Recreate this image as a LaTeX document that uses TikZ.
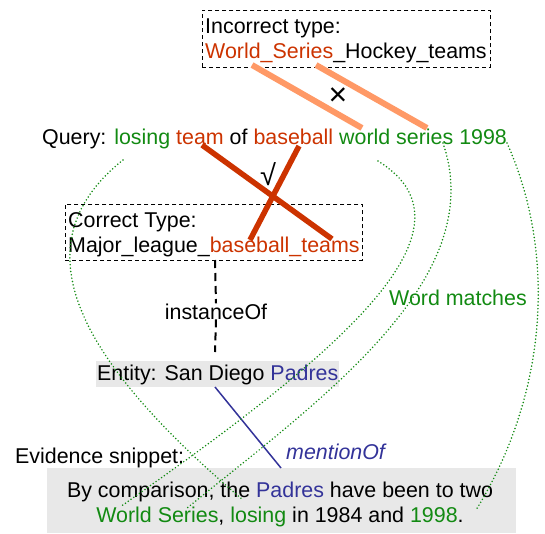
\documentclass[tikz,border=0pt]{standalone}
\usepackage{fontspec}
\setmainfont{Liberation Sans}
\definecolor{wgreen}{HTML}{128A12}
\definecolor{wred}{HTML}{CC3300}
\definecolor{wblue}{HTML}{333399}
\definecolor{lorange}{HTML}{FF9966}
\definecolor{lgray}{HTML}{E8E8E8}
\begin{document}
\begin{tikzpicture}[x=1pt,y=-1pt,
  txt/.style={anchor=base west, inner sep=0pt, font=\fontsize{21.4}{25}\selectfont},
  ctxt/.style={anchor=base, inner sep=0pt, font=\fontsize{21.4}{25}\selectfont},
  typebox/.style={draw, dash pattern=on 4pt off 3pt, line width=0.9pt, anchor=north west, inner sep=0pt},
  graybox/.style={fill=lgray, anchor=north west, inner sep=0pt},
  wrongln/.style={lorange, line width=6pt},
  rightln/.style={wred, line width=5.5pt},
  matchln/.style={wgreen, line width=1.7pt, line cap=round, dash pattern=on 0pt off 3.4pt},
  instln/.style={line width=2pt, dash pattern=on 8pt off 5pt},
  mentln/.style={wblue, line width=1.5pt}
]
\useasboundingbox (0,0) rectangle (545,533);

% boxes
\node[typebox, minimum width=288pt, minimum height=57pt] (inc) at (202,10) {};
\node[typebox, minimum width=297pt, minimum height=56pt] (cor) at (65,204) {};
\node[graybox, minimum width=469pt, minimum height=65pt] (snip) at (47,468) {};

% texts
\node[txt] (inc1) at (205,33) {Incorrect type:};
\node[txt] (inc2) at (205,58) {\textcolor{wred}{World\_Series}\_Hockey\_teams};
\node[txt] (query) at (42,144) {Query: \textcolor{wgreen}{losing} \textcolor{wred}{team} of \textcolor{wred}{baseball} \textcolor{wgreen}{world series 1998}};
\node[txt] (cor1) at (68,227) {Correct Type:};
\node[txt] (cor2) at (68,252) {Major\_league\_\textcolor{wred}{baseball\_teams}};
\node[ctxt] (inst) at (216,319) {instanceOf};
\node[txt, fill=lgray, inner xsep=1pt, inner ysep=2pt, text height=17pt, text depth=5pt] (ent) at (96,380) {Entity: San Diego \textcolor{wblue}{Padres}};
\node[txt] (match) at (389,305) {\textcolor{wgreen}{Word matches}};
\node[txt] (evid) at (15,463) {Evidence snippet:};
\node[txt, font=\fontsize{21.4}{25}\selectfont\itshape] (ment) at (286,459) {\textcolor{wblue}{mentionOf}};
\node[ctxt] (snip1) at (280,497) {By comparison, the \textcolor{wblue}{Padres} have been to two};
\node[ctxt] (snip2) at (280,522) {\textcolor{wgreen}{World Series}, \textcolor{wgreen}{losing} in 1984 and \textcolor{wgreen}{1998}.};

% marks
\node[inner sep=0pt, font=\fontsize{32}{32}\selectfont] (xmark) at (338,97) {×};
\node[inner sep=0pt, font=\fontsize{29}{29}\selectfont] (vmark) at (268,174) {√};

% anchor coordinates
\coordinate (iws) at (252,65);
\coordinate (qws) at (362,128);
\coordinate (iser) at (316,65);
\coordinate (qser) at (427,128);
\coordinate (qteam) at (202,145);
\coordinate (cteam) at (332,239);
\coordinate (qbase) at (299,146);
\coordinate (cbase) at (250,240);
\coordinate (ql) at (123,160);
\coordinate (sl) at (243,500);
\coordinate (qw) at (378,161);
\coordinate (sw) at (120,507);
\coordinate (qs) at (443,143);
\coordinate (ss) at (187,508);
\coordinate (q98) at (507,143);
\coordinate (s98) at (476,510);
\coordinate (ctop) at (215,260);
\coordinate (etop) at (215,352);
\coordinate (epad) at (215,387);

% wrong type links
\draw[wrongln] (iws) -- (qws);
\draw[wrongln] (iser) -- (qser);
% right type links
\draw[rightln] (qteam) -- (cteam);
\draw[rightln] (qbase) -- (cbase);

% instanceOf
\draw[instln] (ctop) -- (inst.north);
\draw[instln] (inst.south) -- (etop);

% mentionOf
\draw[mentln] (epad) -- (snip.north -| 281,0);

% word matches
\draw[matchln] (ql) .. controls (10,250) and (90,370) .. (sl);
\draw[matchln] (qw) .. controls (490,230) and (330,360) .. (sw);
\draw[matchln] (qs) .. controls (490,280) and (320,400) .. (ss);
\draw[matchln] (q98) .. controls (555,250) and (550,390) .. (s98);
\end{tikzpicture}
\end{document}
